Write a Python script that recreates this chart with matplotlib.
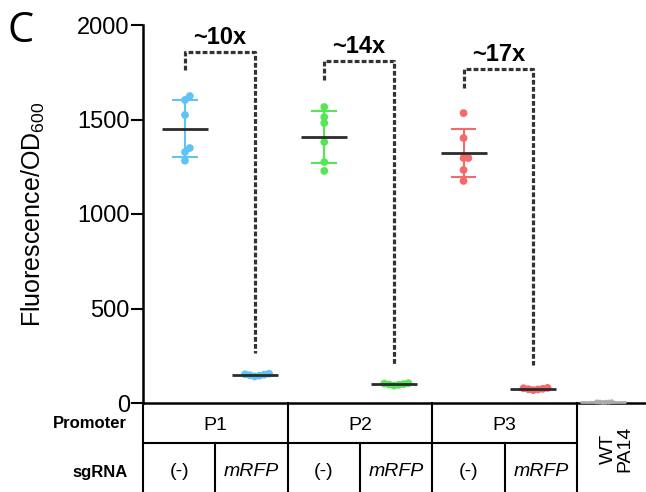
import numpy as np
import matplotlib
matplotlib.use("Agg")
import matplotlib.pyplot as plt

plt.rcParams["font.family"] = ["Liberation Sans", "DejaVu Sans"]
plt.rcParams["mathtext.fontset"] = "custom"
plt.rcParams["mathtext.rm"] = "Liberation Sans"
plt.rcParams["mathtext.it"] = "Liberation Sans:italic"
plt.rcParams["mathtext.bf"] = "Liberation Sans:bold"

# replicate values (fluorescence / OD600)
p1_neg = [1624, 1603, 1524, 1349, 1328, 1282]
p1_mrfp = [140, 145, 150, 152, 147, 155]
p2_neg = [1566, 1513, 1481, 1381, 1275, 1228]
p2_mrfp = [92, 96, 100, 103, 98, 105]
p3_neg = [1534, 1402, 1296, 1296, 1233, 1175]
p3_mrfp = [68, 72, 75, 78, 73, 80]
wt_pa14 = [3, 5, 6, 4, 7, 5]

groups = [p1_neg, p1_mrfp, p2_neg, p2_mrfp, p3_neg, p3_mrfp, wt_pa14]
colors = ["#5ec4f5", "#5ec4f5", "#55e655", "#55e655", "#f46a6a", "#f46a6a", "#b0b0b0"]

promoters = ["P1", "P2", "P3"]
sgrnas = ["(-)", "mRFP", "(-)", "mRFP", "(-)", "mRFP"]

fold_labels = ["~10x", "~14x", "~17x"]
bracket_top = [1857, 1810, 1767]
bracket_left_end = [1762, 1709, 1667]
bracket_right_end = [265, 201, 201]

W, H = 646, 492
fig = plt.figure(figsize=(W / 100, H / 100), dpi=100)
ax = fig.add_axes([143 / W, 89 / H, 503 / W, 378 / H])

xlim = (0.397, 7.62)
ylim = (0, 2000)
ax.set_xlim(*xlim)
ax.set_ylim(*ylim)

# data units per pixel, used to spread overlapping dots sideways
px_x = (xlim[1] - xlim[0]) / 503
px_y = (ylim[1] - ylim[0]) / 378


def swarm(vals, d):
    placed = []
    offs = np.zeros(len(vals))
    for i in np.argsort(vals):
        y = vals[i] / px_y
        for k in range(0, 20):
            cand = (k + 1) // 2 * (1 if k % 2 else -1) * d * 0.6
            if all((cand - ox) ** 2 + (y - oy) ** 2 >= (d * 0.6) ** 2 for ox, oy in placed):
                break
        placed.append((cand, y))
        offs[i] = cand * px_x
    return offs


for i, (vals, c) in enumerate(zip(groups, colors)):
    xpos = i + 1
    vals = np.array(vals, dtype=float)
    m = vals.mean()
    sd = vals.std(ddof=1)
    d = 5.0 if i == 6 else 8.0
    ax.plot([xpos, xpos], [m - sd, m + sd], color=c, lw=1.5, zorder=2)
    for v in (m - sd, m + sd):
        ax.plot([xpos - 0.17, xpos + 0.17], [v, v], color=c, lw=1.5, zorder=2)
    ax.scatter(xpos + swarm(vals, d), vals, s=(d / 1.39) ** 2 * 0.95, color=c, edgecolor="none",
               zorder=3, clip_on=False)
    mean_c = "#aaaaaa" if i == 6 else "#2b2b2b"
    ax.plot([xpos - 0.33, xpos + 0.33], [m, m], color=mean_c, lw=2, zorder=4, solid_capstyle="butt",
            clip_on=False)

# fold-change brackets
for j, lab in enumerate(fold_labels):
    xl, xr = 2 * j + 1, 2 * j + 2
    ax.plot([xl, xl, xr, xr], [bracket_left_end[j], bracket_top[j], bracket_top[j], bracket_right_end[j]],
            color="#333333", lw=2.3, linestyle=(0, (1.5, 0.7)), clip_on=False, zorder=1)
    ax.annotate(lab, ((xl + xr) / 2, bracket_top[j]), xytext=(0, 2), textcoords="offset points",
                ha="center", va="bottom", fontsize=17, fontweight="bold", annotation_clip=False)

for s in ["top", "right"]:
    ax.spines[s].set_visible(False)
ax.spines["left"].set_linewidth(1.8)
ax.spines["bottom"].set_linewidth(1.8)
ax.set_xticks([])
ax.set_yticks([0, 500, 1000, 1500, 2000])
ax.tick_params(axis="y", length=8.5, width=1.5, labelsize=17, pad=1)
ax.set_ylabel("Fluorescence/OD$_{600}$", fontsize=18, va="center")
ax.yaxis.set_label_coords((33 - 143) / 503, 0.5)

# table under the axis, in axes-fraction coordinates
cell = (577 - 143) / 6 / 503
row_mid = -(443 - 403) / 378
bottom = -(492 - 403) / 378
kw = dict(transform=ax.transAxes, color="black", lw=1.5, clip_on=False)
for k in range(0, 7, 2):
    ax.plot([k * cell, k * cell], [0, bottom], **kw)
for k in (1, 3, 5):
    ax.plot([k * cell, k * cell], [row_mid, bottom], **kw)
ax.plot([0, 6 * cell], [row_mid, row_mid], **kw)

y_prom = -(425 - 403) / 378
y_sg = -(472 - 403) / 378
for j, p in enumerate(promoters):
    ax.text((2 * j + 1) * cell, y_prom, p, transform=ax.transAxes, ha="center", va="center", fontsize=14)
for k, s in enumerate(sgrnas):
    ax.text((k + 0.5) * cell, y_sg, s, transform=ax.transAxes, ha="center", va="center", fontsize=14,
            style="italic" if s != "(-)" else "normal")
ax.text((6 * cell + 1) / 2 + 0.01, -(449 - 403) / 378, "WT\nPA14", transform=ax.transAxes,
        ha="center", va="center", rotation=90, fontsize=14, multialignment="center", linespacing=0.95)

fig.text(127 / W, 1 - 423 / H, "Promoter", ha="right", va="center", fontsize=12, fontweight="bold")
fig.text(128 / W, 1 - 472 / H, "sgRNA", ha="right", va="center", fontsize=12, fontweight="bold")
fig.text(21 / W, 1 - 31 / H, "C", ha="center", va="center", fontsize=30, family=["Open Sans", "DejaVu Sans"])

fig.savefig("out.png", dpi=100)
plt.close(fig)
